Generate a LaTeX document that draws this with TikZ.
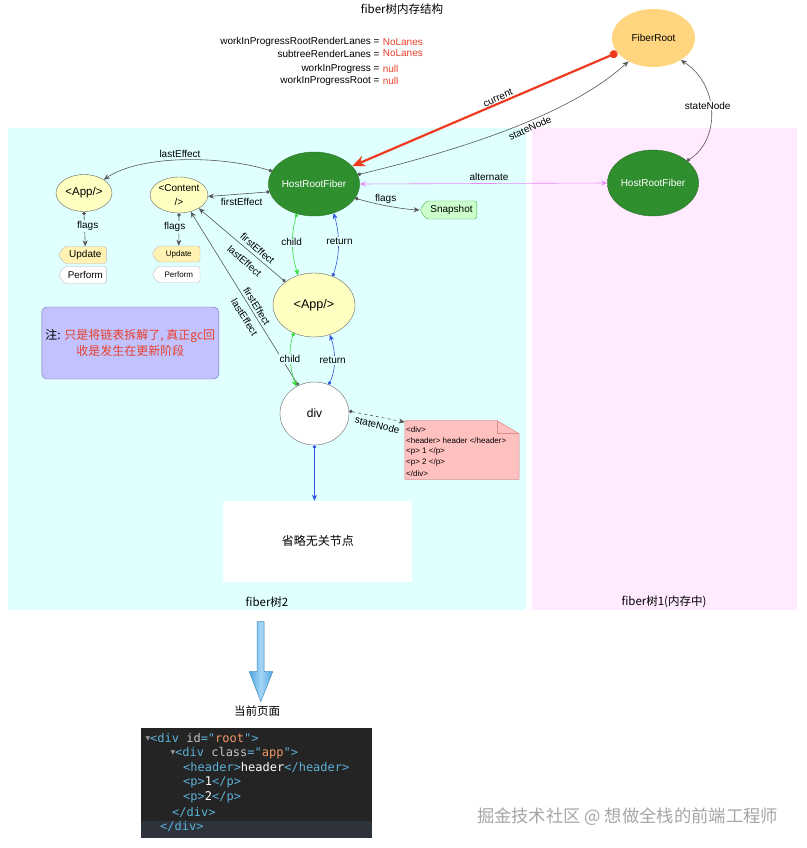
\documentclass[tikz,border=0pt]{standalone}
\usepackage{fontspec}
\setmainfont{Liberation Sans}
\setmonofont{DejaVu Sans Mono}
\newfontfamily\cjk{Noto Sans CJK SC}
\newfontfamily\djv{DejaVu Sans}
\usetikzlibrary{arrows.meta,shapes.geometric,shapes.symbols,calc}
\definecolor{cyanbg}{HTML}{E0FFFF}
\definecolor{pinkbg}{HTML}{FFEAFF}
\definecolor{rootfill}{HTML}{FFD57F}
\definecolor{hrfgreen}{HTML}{2F8F2F}
\definecolor{appfill}{HTML}{FFFFC2}
\definecolor{redtxt}{HTML}{E8402A}
\definecolor{redline}{HTML}{EE3B1F}
\definecolor{altc}{HTML}{E88CF5}
\definecolor{childc}{HTML}{33DD33}
\definecolor{retc}{HTML}{3355DD}
\definecolor{edgec}{HTML}{555555}
\definecolor{notefill}{HTML}{C2C2FF}
\definecolor{noteborder}{HTML}{6F6F9F}
\definecolor{pinknote}{HTML}{FFC0C0}
\definecolor{pinkborder}{HTML}{D98E8E}
\definecolor{updfill}{HTML}{FFF2B3}
\definecolor{snapfill}{HTML}{CCFFCC}
\definecolor{codebg}{HTML}{242424}
\definecolor{codehl}{HTML}{2D323B}
\definecolor{tagc}{HTML}{5DB0D7}
\definecolor{attrc}{HTML}{C5C5C5}
\definecolor{valc}{HTML}{F29766}
\definecolor{arrowblue}{HTML}{4FA6E3}
\definecolor{arrowlight}{HTML}{A5D6F7}
\definecolor{wmgray}{HTML}{A6A6A6}
\begin{document}
\begin{tikzpicture}[x=1pt,y=-1pt,
  f10/.style={font=\fontsize{10}{12}\selectfont},
  ell/.style={ellipse, inner sep=0pt, align=center},
  lbl/.style={f10, inner sep=1pt, text=black},
  rlbl/.style={f10, inner sep=0pt, text=black},
  conn/.style={draw=edgec, line width=0.6pt, {Circle[length=3.5pt]}-{Stealth[length=6pt,width=5pt]}},
  tagbox/.style={signal, signal to=west, signal from=nowhere, signal pointer angle=110, rounded corners=2.5pt, inner sep=0pt, draw=gray!55},
  codeline/.style={anchor=west, inner sep=0pt, font=\ttfamily\fontsize{12}{14}\selectfont},
  tri/.style={anchor=west, inner sep=0pt, text=gray!80, font=\djv\fontsize{6}{7}\selectfont},
]
\useasboundingbox (0,0) rectangle (806,848);
\fill[white] (0,0) rectangle (806,848);
% panels
\fill[cyanbg] (8,128) rectangle (526,610);
\fill[pinkbg] (532,128) rectangle (797,610);

% title and variables
\node[inner sep=0pt, font=\cjk\fontsize{11.5}{13}\selectfont] (title) at (402,9) {fiber树内存结构};
\node[f10, anchor=east, inner sep=0pt] (v1) at (379.8,41.7) {workInProgressRootRenderLanes =};
\node[f10, anchor=west, inner sep=0pt, text=redtxt] (v1r) at (382.6,41.7) {NoLanes};
\node[f10, anchor=east, inner sep=0pt] (v2) at (379.8,53.5) {subtreeRenderLanes =};
\node[f10, anchor=west, inner sep=0pt, text=redtxt] (v2r) at (382.6,53.5) {NoLanes};
\node[f10, anchor=east, inner sep=0pt] (v3) at (379.8,69) {workInProgress =};
\node[f10, anchor=west, inner sep=0pt, text=redtxt] (v3r) at (382.6,69) {null};
\node[f10, anchor=east, inner sep=0pt] (v4) at (379.8,81) {workInProgressRoot =};
\node[f10, anchor=west, inner sep=0pt, text=redtxt] (v4r) at (382.6,81) {null};

% main nodes
\node[ell, fill=rootfill, minimum width=83pt, minimum height=58pt, f10] (fr) at (653.5,38) {FiberRoot};
\node[ell, fill=hrfgreen, draw=hrfgreen!80!black, minimum width=82pt, minimum height=64pt, f10, text=white] (hrf) at (314,184) {HostRootFiber};
\node[ell, fill=hrfgreen, draw=hrfgreen!80!black, minimum width=82pt, minimum height=66pt, f10, text=white] (hrfR) at (653,183) {HostRootFiber};
\node[ell, fill=appfill, draw=gray!80!black, minimum width=56pt, minimum height=37pt, font=\fontsize{11.5}{13}\selectfont] (appS) at (84,193) {<App/>};
\node[ell, fill=appfill, draw=gray!80!black, minimum width=56pt, minimum height=36pt, font=\fontsize{10}{13.3}\selectfont] (content) at (179,195) {<Content\\/>};
\node[ell, fill=appfill, draw=gray!80!black, minimum width=82pt, minimum height=64pt, font=\fontsize{12.6}{14}\selectfont] (appM) at (314,305) {<App/>};
\node[ell, fill=white, draw=gray!80!black, minimum width=69pt, minimum height=63pt, font=\fontsize{12}{14}\selectfont] (div) at (314.5,413.5) {div};

% tag boxes
\node[tagbox, fill=updfill, minimum width=48pt, minimum height=17pt, f10] (updL) at (85.3,255) {Update};
\node[tagbox, fill=white, minimum width=48pt, minimum height=17pt, font=\fontsize{9.8}{11}\selectfont] (perfL) at (85.3,275) {Perform};
\node[tagbox, fill=updfill, minimum width=48pt, minimum height=16pt, font=\fontsize{8}{9}\selectfont] (updR) at (178.8,254) {Update};
\node[tagbox, fill=white, minimum width=48pt, minimum height=16pt, font=\fontsize{8}{9}\selectfont] (perfR) at (178.8,274.5) {Perform};
\node[tagbox, fill=snapfill, draw=green!40!gray, minimum width=57pt, minimum height=18pt, f10] (snap) at (451.5,210) {Snapshot};

% note box
\node[draw=noteborder, fill=notefill, rounded corners=5pt, minimum width=177pt, minimum height=72pt, align=center, inner sep=0pt, font=\cjk\fontsize{12}{16.7}\selectfont] (gcnote) at (130.3,343) {注: \textcolor{redtxt}{只是将链表拆解了, 真正gc回}\\\textcolor{redtxt}{收是发生在更新阶段}};

% pink paper note
\node[minimum width=114pt, minimum height=58.3pt, inner sep=0pt] (note) at (462,450) {};
\filldraw[fill=pinknote, draw=pinkborder, line width=0.5pt] (note.north west) -- ($(note.north east)+(-22,0)$) -- ($(note.north east)+(0,13)$) -- (note.south east) -- (note.south west) -- cycle;
\draw[pinkborder, line width=0.5pt] ($(note.north east)+(-22,0)$) -- ($(note.north east)+(-22,13)$) -- ($(note.north east)+(0,13)$);
\node[anchor=west, inner sep=0pt, font=\fontsize{8}{9}\selectfont] (n1) at (406,429.3) {<div>};
\node[anchor=west, inner sep=0pt, font=\fontsize{8}{9}\selectfont] (n2) at (406,440.8) {<header> header </header>};
\node[anchor=west, inner sep=0pt, font=\fontsize{8}{9}\selectfont] (n3) at (406,451.3) {<p> 1 </p>};
\node[anchor=west, inner sep=0pt, font=\fontsize{8}{9}\selectfont] (n4) at (406,462) {<p> 2 </p>};
\node[anchor=west, inner sep=0pt, font=\fontsize{8}{9}\selectfont] (n5) at (406,473.3) {</div>};

% omitted box
\node[fill=white, minimum width=189pt, minimum height=80.7pt, inner sep=0pt, font=\cjk\fontsize{12}{14}\selectfont] (omit) at (317.8,541.3) {省略无关节点};

% panel captions
\node[inner sep=0pt, font=\cjk\fontsize{11.5}{13}\selectfont] (cap2) at (267,602) {fiber树2};
\node[inner sep=0pt, font=\cjk\fontsize{11.5}{13}\selectfont] (cap1) at (664,602) {fiber树1(内存中)};

% edges
\draw[conn] (hrf.163) .. controls (220,155) and (140,155) .. (appS.34);
\node[lbl] (lLast) at (180,154) {lastEffect};
\draw[conn] (hrf.190) -- (content.357);
\node[lbl] (lFirst) at (241.7,201.7) {firstEffect};
\draw[draw=redline, line width=2.2pt, {Circle[length=8pt]}-{Stealth[length=13pt,width=11pt]}] (fr.202.6) -- (hrf.25);
\node[lbl, rotate=24] (lCur) at (498,98) {current};
\draw[conn] (hrf.12) .. controls (460,150) and (570,115) .. (fr.223);
\node[lbl, rotate=24] (lSN) at (530,128) {stateNode};
\draw[conn] (hrfR.33.5) .. controls (720,140) and (720,85) .. (fr.321.5);
\node[lbl, fill=white] (lSNR) at (707.7,105.7) {stateNode};
\draw[draw=altc, line width=0.6pt, {Stealth[length=6pt,width=5pt]}-{Stealth[length=6pt,width=5pt]}] (hrf.0) -- (hrfR.180);
\node[lbl] (lAlt) at (489,176.7) {alternate};
\draw[conn] (hrf.-19) .. controls (375,204) and (400,209) .. (snap.west);
\node[lbl] (lFlags) at (385.7,199) {flags};
\draw[conn, draw=childc] (hrf.240) .. controls (291,235) and (291,253) .. (appM.118);
\node[lbl, fill=cyanbg] (lChild) at (291.7,242.3) {child};
\draw[conn, draw=retc] (appM.57.7) .. controls (340,255) and (340,235) .. (hrf.304);
\node[lbl, fill=cyanbg] (lRet) at (339.5,241.7) {return};
\draw[conn] (appM.141) -- (content.326);
\node[rlbl, rotate=-41] (lFE1) at (257.5,248.5) {firstEffect};
\node[rlbl, rotate=-41] (lLE1) at (244.5,261) {lastEffect};
\draw[conn] (div.120) -- (content.305.6);
\node[rlbl, rotate=-58] (lFE2) at (256.8,306.2) {firstEffect};
\node[rlbl, rotate=-58] (lLE2) at (244.5,317.2) {lastEffect};
\draw[conn, draw=childc] (appM.234.5) .. controls (288,350) and (290,370) .. (div.124);
\node[lbl, fill=cyanbg] (lChild2) at (290,359) {child};
\draw[conn, draw=retc] (div.64.7) .. controls (336,370) and (336,352) .. (appM.298);
\node[lbl, fill=cyanbg] (lRet2) at (332.7,360.7) {return};
\draw[conn, dashed] (div.4) -- (note.154.6);
\node[lbl, rotate=-14] (lSND) at (377.3,425) {stateNode};
\draw[conn, draw=retc] (div.270) -- (div.270 |- omit.north);
\draw[conn] (appS.270) -- (updL.north);
\node[lbl, fill=cyanbg] (lFlL) at (87.7,226) {flags};
\draw[conn] (content.270) -- (updR.north);
\node[lbl, fill=cyanbg] (lFlR) at (174.7,227) {flags};

% big arrow
\path[draw=arrowblue!85!black, line width=0.5pt, left color=arrowblue, right color=arrowblue, middle color=arrowlight]
  (257,621.7) -- (264,621.7) -- (264,671.7) -- (272.7,671.7) -- (260.8,701.7) -- (249.3,671.7) -- (257,671.7) -- cycle;
\node[inner sep=0pt, font=\cjk\fontsize{11.5}{13}\selectfont] (cur) at (257,711) {当前页面};

% code block
\fill[codebg] (141,728) rectangle (372,838);
\fill[codehl] (141,821) rectangle (372,838);
\node[tri] (t1) at (145.5,738.5) {▼};
\node[codeline] (c1) at (150,738.5) {\textcolor{tagc}{<div }\textcolor{attrc}{id}\textcolor{tagc}{="}\textcolor{valc}{root}\textcolor{tagc}{">}};
\node[tri] (t2) at (170.5,753.2) {▼};
\node[codeline] (c2) at (175,753.2) {\textcolor{tagc}{<div }\textcolor{attrc}{class}\textcolor{tagc}{="}\textcolor{valc}{app}\textcolor{tagc}{">}};
\node[codeline] (c3) at (183,767.9) {\textcolor{tagc}{<header>}\textcolor{white}{header}\textcolor{tagc}{</header>}};
\node[codeline] (c4) at (183,782.6) {\textcolor{tagc}{<p>}\textcolor{white}{1}\textcolor{tagc}{</p>}};
\node[codeline] (c5) at (183,797.3) {\textcolor{tagc}{<p>}\textcolor{white}{2}\textcolor{tagc}{</p>}};
\node[codeline] (c6) at (172,812) {\textcolor{tagc}{</div>}};
\node[codeline] (c7) at (160,826.7) {\textcolor{tagc}{</div>}};

% watermark
\node[inner sep=0pt, text=wmgray, font=\cjk\fontsize{17.3}{19}\selectfont] (wm) at (627.5,816.7) {掘金技术社区 @ 想做全栈的前端工程师};
\end{tikzpicture}
\end{document}
